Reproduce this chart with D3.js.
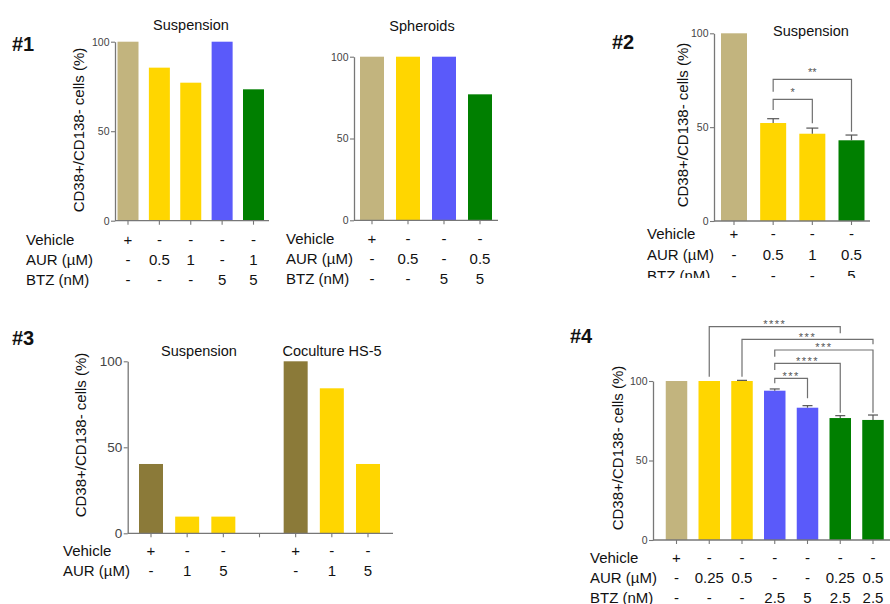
<!DOCTYPE html>
<html><head><meta charset="utf-8">
<script src="https://cdn.jsdelivr.net/npm/d3@7"></script>
<style>
body{margin:0;background:#fff}
svg{display:block;font-family:"Liberation Sans",Arial,sans-serif}
</style>
</head><body>
<svg id="c" width="890" height="604"></svg>
<script>
// ---------------- DATA ----------------
const yTicks = [0, 50, 100];
const yLabel = "CD38+/CD138- cells (%)";
const rowVehicle = "Vehicle", rowAUR = "AUR (µM)", rowBTZ = "BTZ (nM)";

// #1 Suspension
const p1aTitle = "Suspension";
const p1aGroups = ["veh", "aur", "aur", "btz", "combo"];
const p1aValues = [100, 85.5, 77.1, 100, 73.4];
const p1aVehicle = ["+", "-", "-", "-", "-"];
const p1aAUR = ["-", "0.5", "1", "-", "1"];
const p1aBTZ = ["-", "-", "-", "5", "5"];

// #1 Spheroids
const p1bTitle = "Spheroids";
const p1bGroups = ["veh", "aur", "btz", "combo"];
const p1bValues = [100, 100, 100, 77.0];
const p1bVehicle = ["+", "-", "-", "-"];
const p1bAUR = ["-", "0.5", "-", "0.5"];
const p1bBTZ = ["-", "-", "5", "5"];

// #2 Suspension
const p2Title = "Suspension";
const p2Groups = ["veh", "aur", "aur", "combo"];
const p2Values = [100, 52.2, 46.5, 43.0];
const p2Errors = [null, 2.3, 3.0, 2.8];
const p2Vehicle = ["+", "-", "-", "-"];
const p2AUR = ["-", "0.5", "1", "0.5"];
const p2BTZ = ["-", "-", "-", "5"];
const p2Compare = [
  {from: 1, to: 2, label: "*",  top: 64.8, leftEnd: 59.1, rightEnd: 52.1},
  {from: 1, to: 3, label: "**", top: 75.5, leftEnd: 68.9, rightEnd: 47.6}
];

// #3 Suspension / Coculture HS-5
const p3Titles = ["Suspension", "Coculture HS-5"];
const p3Groups = ["vehDark", "aur", "aur", "none", "vehDark", "aur", "aur"];
const p3Values = [40.3, 9.7, 9.7, null, 100, 84.3, 40.3];
const p3Vehicle = ["+", "-", "-", "", "+", "-", "-"];
const p3AUR = ["-", "1", "5", "", "-", "1", "5"];

// #4
const p4Groups = ["veh", "aur", "aur", "btz", "btz", "combo", "combo"];
const p4Values = [100, 100, 100, 93.9, 83.2, 76.7, 75.5];
const p4Errors = [null, null, 0.4, 1.1, 1.3, 1.5, 3.1];
const p4Vehicle = ["+", "-", "-", "-", "-", "-", "-"];
const p4AUR = ["-", "0.25", "0.5", "-", "-", "0.25", "0.5"];
const p4BTZ = ["-", "-", "-", "2.5", "5", "2.5", "2.5"];
const p4Compare = [
  {from: 1, to: 5, label: "****", top: 134.2, leftEnd: 102.7, rightEnd: 130.0},
  {from: 2, to: 6, label: "***",  top: 126.2, leftEnd: 102.7, rightEnd: 123.1},
  {from: 3, to: 6, label: "***",  top: 119.5, leftEnd: 115.3, rightEnd: 80.0},
  {from: 3, to: 5, label: "****", top: 111.1, leftEnd: 106.9, rightEnd: 80.0},
  {from: 3, to: 4, label: "***",  top: 101.7, leftEnd: 98.6,  rightEnd: 89.1}
];

// ---------------- STYLE ----------------
const color = d3.scaleOrdinal()
  .domain(["veh", "aur", "btz", "combo", "vehDark", "none"])
  .range(["#c2b47e", "#ffd600", "#5a5afa", "#007f00", "#8b7a39", "none"]);

const svg = d3.select("#c");
const defs = svg.append("defs");

function panel(o) {
  const g = svg.append("g");
  const n = o.values.length;
  const step = (o.c1 - o.c0) / (n - 1);
  const pad = 1 - o.bw / step;
  const x = d3.scaleBand().domain(d3.range(n))
    .range([o.c0 - step / 2, o.c1 + step / 2])
    .paddingInner(pad).paddingOuter(pad / 2);
  const cx = i => x(i) + x.bandwidth() / 2;
  const y = d3.scaleLinear().domain([0, 100]).range([o.y0, o.y1]);

  // bars
  const bars = o.values.map((v, i) => ({v, i, grp: o.groups[i]})).filter(d => d.v != null);
  g.selectAll("rect.bar").data(bars).join("rect").attr("class", "bar")
    .attr("x", d => x(d.i)).attr("width", x.bandwidth())
    .attr("y", d => y(d.v)).attr("height", d => y(0) - y(d.v))
    .attr("fill", d => color(d.grp));

  // error bars
  if (o.errors) {
    const eb = o.values.map((v, i) => ({v, i, e: o.errors[i]})).filter(d => d.e != null);
    const eg = g.selectAll("g.err").data(eb).join("g").attr("class", "err")
      .attr("stroke", "#555").attr("stroke-width", 1.2);
    eg.append("line").attr("x1", d => cx(d.i)).attr("x2", d => cx(d.i))
      .attr("y1", d => y(d.v)).attr("y2", d => y(d.v + d.e));
    eg.append("line").attr("x1", d => cx(d.i) - o.capW / 2).attr("x2", d => cx(d.i) + o.capW / 2)
      .attr("y1", d => y(d.v + d.e)).attr("y2", d => y(d.v + d.e));
  }

  // y axis
  const ya = g.append("g").attr("transform", `translate(${o.ax0},0)`)
    .call(d3.axisLeft(y).tickValues(yTicks).tickSize(4).tickSizeOuter(0).tickPadding(1.5));
  ya.select(".domain").attr("stroke", "#777").attr("stroke-width", 1.3);
  ya.selectAll(".tick line").attr("stroke", "#777").attr("stroke-width", 1.1);
  ya.selectAll(".tick text").attr("fill", "#444").attr("font-size", o.tickFs)
    .attr("font-family", "Liberation Sans, Arial, sans-serif");

  // x axis
  g.append("line").attr("x1", o.ax0).attr("x2", o.ax1).attr("y1", y(0)).attr("y2", y(0))
    .attr("stroke", "#777").attr("stroke-width", 1.3);
  g.selectAll("line.xt").data(d3.range(n)).join("line").attr("class", "xt")
    .attr("x1", cx).attr("x2", cx).attr("y1", y(0)).attr("y2", y(0) + 4)
    .attr("stroke", "#777").attr("stroke-width", 1.1);

  // brackets
  if (o.compare) {
    const bg = g.selectAll("g.cmp").data(o.compare).join("g").attr("class", "cmp");
    bg.append("path")
      .attr("d", d => `M${cx(d.from)},${y(d.leftEnd)}V${y(d.top)}H${cx(d.to)}V${y(d.rightEnd)}`)
      .attr("fill", "none").attr("stroke", "#707070").attr("stroke-width", 1.2);
    bg.append("text")
      .attr("x", d => (cx(d.from) + cx(d.to)) / 2)
      .attr("y", d => y(d.top) - o.starGap + 0.57 * o.starFs)
      .attr("text-anchor", "middle").attr("font-size", o.starFs)
      .attr("letter-spacing", o.starLs || 0)
      .attr("fill", "#555").text(d => d.label);
  }

  // y label
  if (o.yLabelPos) {
    g.append("text").attr("transform", `translate(${o.yLabelPos[0]},${o.yLabelPos[1]}) rotate(-90)`)
      .attr("text-anchor", "middle").attr("dominant-baseline", "central")
      .attr("font-size", 15).attr("fill", "#111").text(yLabel);
  }

  // titles
  (o.titles || []).forEach(t => {
    g.append("text").attr("x", t.x).attr("y", t.y).attr("text-anchor", "middle")
      .attr("dominant-baseline", "central").attr("font-size", 14.5).attr("fill", "#111").text(t.text);
  });

  // table
  const tg = g.append("g");
  if (o.clipY) {
    const id = "clip" + Math.round(o.c0);
    defs.append("clipPath").attr("id", id).append("rect")
      .attr("x", 0).attr("y", 0).attr("width", 890).attr("height", o.clipY);
    tg.attr("clip-path", `url(#${id})`);
  }
  o.rows.forEach((r, k) => {
    const ry = o.rowY[k];
    tg.append("text").attr("x", o.labelX).attr("y", ry).attr("dominant-baseline", "central")
      .attr("font-size", 15).attr("fill", "#111").text(r.name);
    tg.selectAll(null).data(r.vals.map((v, i) => ({v, i}))).join("text")
      .attr("x", d => cx(d.i)).attr("y", ry).attr("text-anchor", "middle")
      .attr("dominant-baseline", "central").attr("font-size", 15).attr("fill", "#111")
      .text(d => d.v);
  });
}

// panel numbers
[["#1", 12, 51], ["#2", 612, 49], ["#3", 12, 345], ["#4", 570, 343]].forEach(p => {
  svg.append("text").attr("x", p[1]).attr("y", p[2]).attr("font-size", 20)
    .attr("font-weight", "bold").attr("fill", "#111").text(p[0]);
});

panel({
  values: p1aValues, groups: p1aGroups, c0: 128, c1: 253.5, bw: 21,
  ax0: 115, ax1: 269, y0: 220.7, y1: 41.7, tickFs: 10.5,
  yLabelPos: [78, 130], titles: [{text: p1aTitle, x: 191, y: 25}],
  labelX: 26, rowY: [239, 259, 279],
  rows: [{name: rowVehicle, vals: p1aVehicle}, {name: rowAUR, vals: p1aAUR}, {name: rowBTZ, vals: p1aBTZ}]
});

panel({
  values: p1bValues, groups: p1bGroups, c0: 372, c1: 480, bw: 24,
  ax0: 354, ax1: 498, y0: 220.3, y1: 56.7, tickFs: 10.5,
  titles: [{text: p1bTitle, x: 422, y: 26}],
  labelX: 286, rowY: [238, 258, 278],
  rows: [{name: rowVehicle, vals: p1bVehicle}, {name: rowAUR, vals: p1bAUR}, {name: rowBTZ, vals: p1bBTZ}]
});

panel({
  values: p2Values, groups: p2Groups, errors: p2Errors, capW: 12, c0: 734, c1: 851.5, bw: 26,
  ax0: 714, ax1: 870, y0: 221, y1: 33.3, tickFs: 10.5,
  compare: p2Compare, starGap: 9.3, starFs: 11,
  yLabelPos: [682, 125], titles: [{text: p2Title, x: 811, y: 31}],
  labelX: 647, rowY: [233.5, 254, 275], clipY: 278,
  rows: [{name: rowVehicle, vals: p2Vehicle}, {name: rowAUR, vals: p2AUR}, {name: rowBTZ, vals: p2BTZ}]
});

panel({
  values: p3Values, groups: p3Groups, c0: 151, c1: 368, bw: 24,
  ax0: 127.7, ax1: 393, y0: 533.3, y1: 361.3, tickFs: 13.5,
  yLabelPos: [80, 435],
  titles: [{text: p3Titles[0], x: 199, y: 351}, {text: p3Titles[1], x: 332, y: 351}],
  labelX: 63, rowY: [550, 570],
  rows: [{name: rowVehicle, vals: p3Vehicle}, {name: rowAUR, vals: p3AUR}]
});

panel({
  values: p4Values, groups: p4Groups, errors: p4Errors, capW: 10, c0: 676.5, c1: 873, bw: 21.5,
  ax0: 653, ax1: 890, y0: 540, y1: 381, tickFs: 10.5,
  compare: p4Compare, starGap: 5, starFs: 11, starLs: 1.5,
  yLabelPos: [617, 448],
  labelX: 590, rowY: [557, 577, 597],
  rows: [{name: rowVehicle, vals: p4Vehicle}, {name: rowAUR, vals: p4AUR}, {name: rowBTZ, vals: p4BTZ}]
});
</script>
</body></html>
